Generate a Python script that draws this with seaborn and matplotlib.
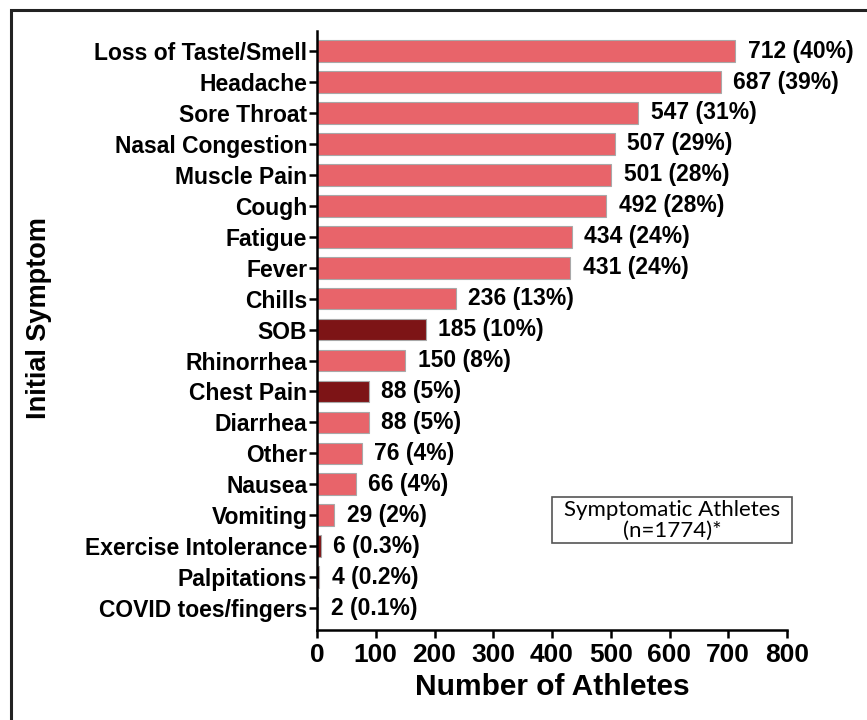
#!/usr/bin/env python3

import pandas as pd
import matplotlib
matplotlib.use("Agg")
import matplotlib.pyplot as plt
import seaborn as sns
from matplotlib.patches import Rectangle

# symptom counts among symptomatic athletes (n=1774)
symptoms = ["Loss of Taste/Smell", "Headache", "Sore Throat", "Nasal Congestion",
            "Muscle Pain", "Cough", "Fatigue", "Fever", "Chills", "SOB",
            "Rhinorrhea", "Chest Pain", "Diarrhea", "Other", "Nausea", "Vomiting",
            "Exercise Intolerance", "Palpitations", "COVID toes/fingers"]
counts = [712, 687, 547, 507, 501, 492, 434, 431, 236, 185,
          150, 88, 88, 76, 66, 29, 6, 4, 2]
percents = ["40%", "39%", "31%", "29%", "28%", "28%", "24%", "24%", "13%", "10%",
            "8%", "5%", "5%", "4%", "4%", "2%", "0.3%", "0.2%", "0.1%"]
# cardiac-type symptoms are drawn in dark red
cardiac = ["SOB", "Chest Pain", "Exercise Intolerance", "Palpitations"]

x_ticks = [0, 100, 200, 300, 400, 500, 600, 700, 800]

df = pd.DataFrame({"symptom": symptoms, "count": counts, "pct": percents})
df["group"] = ["cardiac" if s in cardiac else "other" for s in df["symptom"]]

sns.set_style("ticks")
plt.rcParams["font.family"] = ["Liberation Sans", "DejaVu Sans"]
for key in ["text.color", "axes.labelcolor", "xtick.color", "ytick.color"]:
    plt.rcParams[key] = "black"

fig = plt.figure(figsize=(8.67, 7.2), dpi=100)
ax = fig.add_axes([317 / 867, 1 - 630 / 720, 470 / 867, 599 / 720])

sns.barplot(data=df, x="count", y="symptom", hue="group", order=symptoms,
            palette={"other": "#E8646A", "cardiac": "#7D1416"}, saturation=1,
            dodge=False, legend=False, width=0.7,
            edgecolor="#A8A8A8", linewidth=0.8, ax=ax)

for i, row in df.iterrows():
    ax.annotate(f"{row['count']} ({row['pct']})", xy=(row["count"], i),
                xytext=(9, 0), textcoords="offset points",
                ha="left", va="center", fontsize=16.5, fontweight="bold")

ax.set_xlim(0, 800)
ax.set_ylim(18.71, -0.65)
ax.set_xticks(x_ticks)
ax.set_xticklabels([str(t) for t in x_ticks], fontsize=19, fontweight="bold")
ax.set_yticks(range(len(symptoms)))
ax.set_yticklabels(symptoms, fontsize=16.5, fontweight="bold")
ax.tick_params(axis="both", length=6, width=1.8, color="black", pad=1)
ax.tick_params(axis="x", pad=3)

for side in ["left", "bottom"]:
    ax.spines[side].set_linewidth(1.8)
    ax.spines[side].set_color("black")
sns.despine(ax=ax)

ax.set_xlabel("Number of Athletes", fontsize=21.5, fontweight="bold")
ax.set_ylabel("Initial Symptom", fontsize=19.5, fontweight="bold")
ax.xaxis.set_label_coords(0.5, -0.072)
ax.yaxis.set_label_coords(-0.563, 0.52)

# annotation box
fig.patches.append(Rectangle((552 / 867, 1 - 543 / 720), 240 / 867, 46 / 720,
                             transform=fig.transFigure, facecolor="white",
                             edgecolor="#555555", linewidth=1.2))
fig.text(672 / 867, 1 - 520 / 720, "Symptomatic Athletes\n(n=1774)*",
         ha="center", va="center", fontsize=16, family=["Lato", "DejaVu Sans"],
         linespacing=1.05)

# outer frame of the panel
fig.patches.append(Rectangle((11 / 867, -0.2), 1.2, 1 - 10 / 720 + 0.2,
                             transform=fig.transFigure, fill=False,
                             edgecolor="#222222", linewidth=2.2, clip_on=False))

fig.savefig("out.png", dpi=100)
